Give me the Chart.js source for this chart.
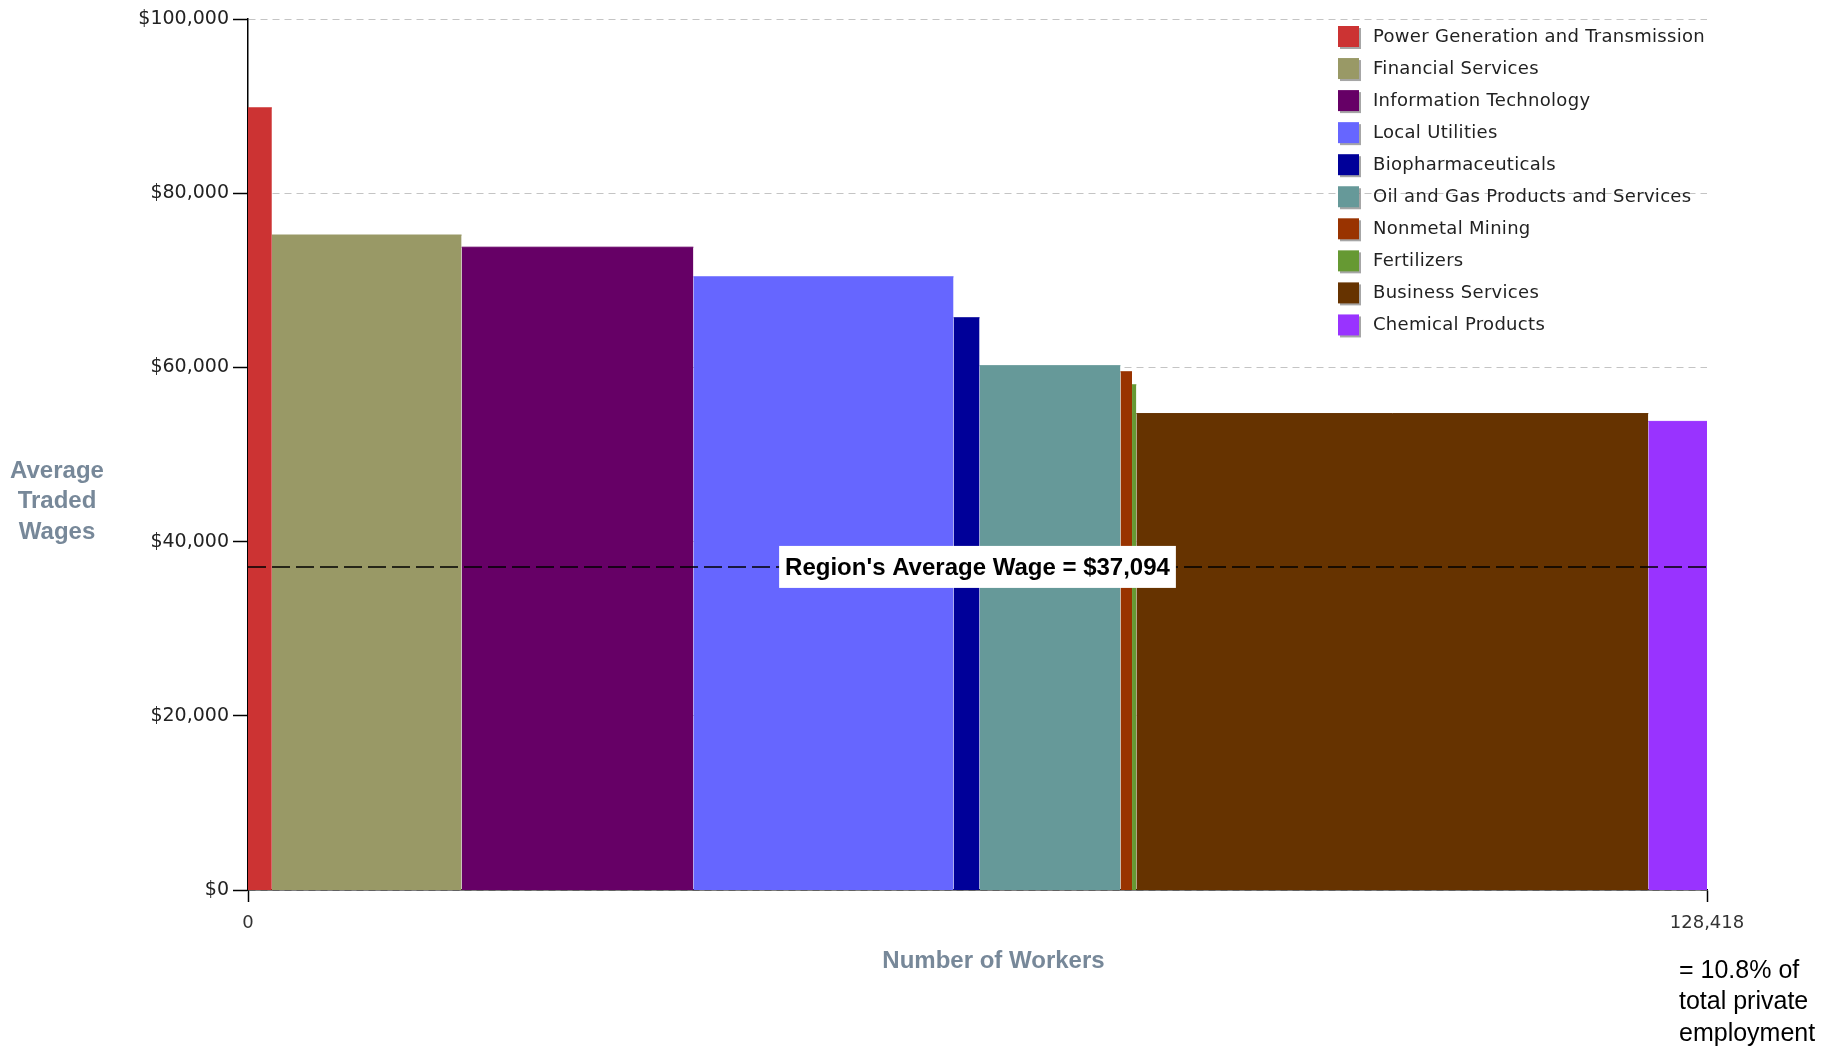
<!DOCTYPE html>
<html>
<head>
<meta charset="utf-8">
<script src="https://cdn.jsdelivr.net/npm/chart.js@4.4.1/dist/chart.umd.min.js"></script>
<style>
  html, body { margin: 0; padding: 0; background: #fff; }
  #wrap { width: 1839px; height: 1048px; position: relative; }
</style>
</head>
<body>
<div id="wrap"><canvas id="wagechart"></canvas></div>
<script>
// traded clusters, in drawing order (left to right)
var clusters = ["Power Generation and Transmission", "Financial Services", "Information Technology",
  "Local Utilities", "Biopharmaceuticals", "Oil and Gas Products and Services", "Nonmetal Mining",
  "Fertilizers", "Business Services", "Chemical Products"];
var workers = [2100, 16700, 20400, 22900, 2290, 12400, 1020, 380, 45060, 5168];
var wages = [89800, 75200, 73800, 70400, 65700, 60200, 59500, 58000, 54700, 53800];
var colors = ["#cc3333", "#999966", "#660066", "#6666ff", "#000099", "#669999", "#993300", "#669933", "#663300", "#9933ff"];
var regionAverage = 37094;
var totalWorkers = 128418;
var yTicks = [0, 20000, 40000, 60000, 80000, 100000];
var shareNote = ["= 10.8% of", "total private", "employment"];

var money = function(v) { return "$" + Number(v).toLocaleString("en-US"); };

// one filled step per cluster, width = number of workers
var datasets = [];
var start = 0;
clusters.forEach(function(name, i) {
  datasets.push({
    label: name,
    data: [{x: start, y: wages[i]}, {x: start + workers[i], y: wages[i]}],
    backgroundColor: colors[i],
    borderColor: colors[i],
    borderWidth: 1,
    fill: "origin",
    pointRadius: 0,
    order: 1
  });
  start += workers[i];
});
datasets.push({
  label: "avg",
  data: [{x: 0, y: regionAverage}, {x: totalWorkers, y: regionAverage}],
  borderColor: "#000",
  borderWidth: 1.5,
  borderDash: [18, 6],
  fill: false,
  pointRadius: 0,
  order: 0
});

var decor = {
  id: "decor",
  afterDatasetsDraw: function(chart) {
    var ctx = chart.ctx, area = chart.chartArea;
    var yPix = chart.scales.y.getPixelForValue(regionAverage);
    var label = "Region's Average Wage = " + money(regionAverage);
    ctx.save();
    ctx.font = "bold 24px 'Liberation Sans', Arial, sans-serif";
    var w = ctx.measureText(label).width + 12;
    var cx = (area.left + area.right) / 2;
    ctx.fillStyle = "#fff";
    ctx.fillRect(cx - w / 2, yPix - 21, w, 42);
    ctx.fillStyle = "#000";
    ctx.textAlign = "center";
    ctx.textBaseline = "middle";
    ctx.fillText(label, cx, yPix + 1);
    ctx.restore();
  },
  afterDraw: function(chart) {
    var ctx = chart.ctx, area = chart.chartArea;
    ctx.save();
    // legend
    ctx.font = "18px 'DejaVu Sans', sans-serif";
    ctx.letterSpacing = "0.3px";
    ctx.textBaseline = "middle";
    ctx.textAlign = "left";
    chart.data.datasets.forEach(function(ds, i) {
      if (i >= clusters.length) return;
      var y = 37 + i * 32.05;
      ctx.fillStyle = "rgba(0,0,0,0.35)";
      ctx.fillRect(1340, y - 9, 21, 21);
      ctx.fillStyle = ds.backgroundColor;
      ctx.fillRect(1338, y - 11, 21, 21);
      ctx.fillStyle = "#222";
      ctx.fillText(ds.label, 1373, y);
    });
    ctx.letterSpacing = "0px";
    // axis titles
    ctx.fillStyle = "#778899";
    ctx.textAlign = "center";
    ctx.font = "bold 24px 'Liberation Sans', Arial, sans-serif";
    ["Average", "Traded", "Wages"].forEach(function(t, i) {
      ctx.fillText(t, 57, 471 + i * 30.5);
    });
    ctx.fillText("Number of Workers", (area.left + area.right) / 2 + 16, 961);
    // share note
    ctx.fillStyle = "#000";
    ctx.textAlign = "left";
    ctx.font = "25px 'Liberation Sans', Arial, sans-serif";
    shareNote.forEach(function(t, i) {
      ctx.fillText(t, 1679, 971 + i * 31.5);
    });
    ctx.restore();
  }
};

new Chart(document.getElementById("wagechart"), {
  type: "line",
  data: {datasets: datasets},
  options: {
    responsive: true,
    maintainAspectRatio: false,
    animation: false,
    layout: {padding: {top: 19, right: 132, left: 0, bottom: 0}},
    plugins: {legend: {display: false}, tooltip: {enabled: false}},
    scales: {
      x: {
        type: "linear",
        min: 0,
        max: totalWorkers,
        afterFit: function(s) { s.height = 158; },
        afterBuildTicks: function(s) { s.ticks = [{value: 0}, {value: totalWorkers}]; },
        grid: {drawOnChartArea: false, tickLength: 12, tickColor: "#000", tickWidth: 1.5},
        border: {color: "#000", width: 1.5},
        ticks: {
          autoSkip: false, maxRotation: 0, padding: 11, color: "#333",
          font: {family: "'DejaVu Sans', sans-serif", size: 18},
          callback: function(v) { return Number(v).toLocaleString("en-US"); }
        }
      },
      y: {
        min: 0,
        max: 100000,
        afterFit: function(s) { s.width = 248; },
        afterBuildTicks: function(s) { s.ticks = yTicks.map(function(v) { return {value: v}; }); },
        grid: {color: "#c4c4c4", tickColor: "#000", tickLength: 15, tickWidth: 1.5},
        border: {color: "#000", width: 1.5, dash: [7, 5]},
        ticks: {
          padding: 4, color: "#222",
          font: {family: "'DejaVu Sans', sans-serif", size: 19},
          callback: money
        }
      }
    }
  },
  plugins: [decor]
});
</script>
</body>
</html>
